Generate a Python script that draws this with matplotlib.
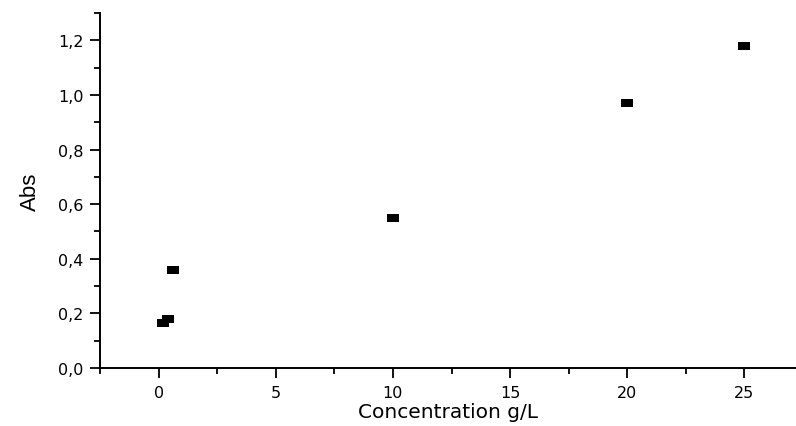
import matplotlib
matplotlib.use("Agg")
import matplotlib.pyplot as plt
from matplotlib.ticker import MultipleLocator, FuncFormatter

conc = [0.2, 0.4, 0.6, 10, 20, 25]
absorb = [0.165, 0.18, 0.36, 0.55, 0.97, 1.18]

fig = plt.figure(figsize=(7.96, 4.27), dpi=100)
ax = fig.add_axes([100/796, 58/427, 1 - 100/796, (369-14)/427])

rect = [(-1.5, -1), (1.5, -1), (1.5, 1), (-1.5, 1), (-1.5, -1)]
ax.plot(conc, absorb, linestyle="none", marker=rect, markersize=8.9,
        markeredgewidth=0, color="black")

ax.set_xlim(-2.5, 27.2)
ax.set_ylim(0, 1.3)
ax.xaxis.set_major_locator(MultipleLocator(5))
ax.xaxis.set_minor_locator(MultipleLocator(2.5))
ax.yaxis.set_major_locator(MultipleLocator(0.2))
ax.yaxis.set_minor_locator(MultipleLocator(0.1))
ax.yaxis.set_major_formatter(FuncFormatter(lambda v, p: f"{v:.1f}".replace(".", ",")))
ax.xaxis.set_major_formatter(FuncFormatter(lambda v, p: f"{v:g}"))

for s in ["top", "right"]:
    ax.spines[s].set_visible(False)
for s in ["left", "bottom"]:
    ax.spines[s].set_linewidth(1.4)

ax.tick_params(which="major", direction="out", length=7, width=1.3,
               labelsize=11.5, labelfontfamily="DejaVu Sans", pad=5)
ax.tick_params(which="minor", direction="out", length=4, width=1.3)

ax.set_xlabel("Concentration g/L", fontsize=14.5, fontfamily="DejaVu Sans", labelpad=2)
ax.set_ylabel("Abs", fontsize=16, fontfamily="Liberation Sans", labelpad=12)

fig.savefig("out.png", dpi=100)
